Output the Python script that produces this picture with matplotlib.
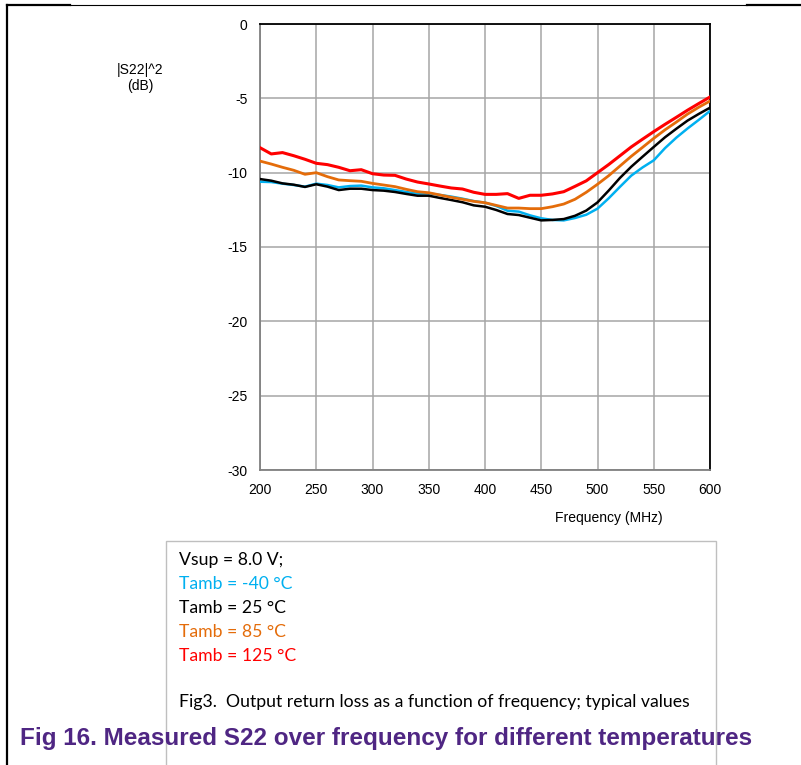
import matplotlib.pyplot as plt
from matplotlib.patches import Rectangle
from matplotlib.lines import Line2D

# Частоти (МГц) та |S22|^2 (дБ) для кожної температури
freq = [200, 210, 220, 230, 240, 250, 260, 270, 280, 290, 300, 310, 320, 330,
        340, 350, 360, 370, 380, 390, 400, 410, 420, 430, 440, 450, 460, 470,
        480, 490, 500, 510, 520, 530, 540, 550, 560, 570, 580, 590, 600]

s22_m40 = [-10.61, -10.63, -10.74, -10.83, -10.94, -10.74, -10.83, -10.99, -10.90, -10.87,
           -10.99, -11.05, -11.17, -11.30, -11.41, -11.39, -11.50, -11.61, -11.75, -11.91,
           -12.02, -12.24, -12.56, -12.62, -12.87, -13.07, -13.18, -13.21, -13.05, -12.83,
           -12.42, -11.72, -10.95, -10.20, -9.65, -9.17, -8.35, -7.65, -7.03, -6.45, -5.85]

s22_25 = [-10.43, -10.54, -10.72, -10.81, -10.96, -10.78, -10.94, -11.17, -11.08, -11.08,
          -11.17, -11.21, -11.30, -11.43, -11.55, -11.55, -11.70, -11.84, -11.99, -12.20,
          -12.29, -12.51, -12.78, -12.85, -13.03, -13.21, -13.18, -13.12, -12.90, -12.55,
          -12.00, -11.20, -10.35, -9.60, -8.93, -8.27, -7.62, -7.05, -6.50, -6.05, -5.63]

s22_85 = [-9.22, -9.42, -9.64, -9.84, -10.11, -10.00, -10.27, -10.49, -10.54, -10.58,
          -10.72, -10.83, -10.94, -11.12, -11.28, -11.35, -11.50, -11.66, -11.79, -11.93,
          -12.02, -12.20, -12.38, -12.38, -12.42, -12.42, -12.29, -12.11, -11.79, -11.32,
          -10.78, -10.20, -9.55, -8.90, -8.30, -7.69, -7.12, -6.60, -6.06, -5.60, -5.18]

s22_125 = [-8.32, -8.74, -8.65, -8.86, -9.10, -9.37, -9.46, -9.64, -9.87, -9.80,
           -10.07, -10.16, -10.18, -10.43, -10.63, -10.76, -10.90, -11.03, -11.10, -11.32,
           -11.46, -11.46, -11.41, -11.73, -11.52, -11.52, -11.43, -11.28, -10.92, -10.55,
           -10.00, -9.45, -8.86, -8.27, -7.75, -7.24, -6.75, -6.28, -5.80, -5.35, -4.91]

x_ticks = [200, 250, 300, 350, 400, 450, 500, 550, 600]
y_ticks = [0, -5, -10, -15, -20, -25, -30]

legend_lines = [
    ("Vsup = 8.0 V;", "black"),
    ("Tamb = -40 °C", "#00B0F0"),
    ("Tamb = 25 °C", "black"),
    ("Tamb = 85 °C", "#E46C0A"),
    ("Tamb = 125 °C", "#FF0000"),
]

W, H = 801, 765
PURPLE = "#4F2683"
fig = plt.figure(figsize=(W / 100, H / 100), dpi=100)

# Область графіка
ax = fig.add_axes([260 / W, 1 - 470 / H, 450 / W, 446 / H])
ax.plot(freq, s22_m40, color="#00B0F0", lw=1.8, zorder=3)
ax.plot(freq, s22_25, color="black", lw=1.8, zorder=4)
ax.plot(freq, s22_85, color="#E46C0A", lw=2.0, zorder=5)
ax.plot(freq, s22_125, color="#FF0000", lw=2.2, zorder=6)

ax.set_xlim(200, 600)
ax.set_ylim(-30, 0)
ax.set_xticks(x_ticks)
ax.set_yticks(y_ticks)
ax.set_xticklabels([str(v) for v in x_ticks], fontsize=10, family="Liberation Sans")
ax.set_yticklabels([str(v) for v in y_ticks], fontsize=10, family="Liberation Sans")
ax.tick_params(length=0, pad=9)
ax.grid(True, color="#A6A6A6", lw=1.1)
ax.set_axisbelow(True)
for side in ("left", "bottom"):
    ax.spines[side].set_color("#808080")
    ax.spines[side].set_linewidth(1.3)
for side in ("top", "right"):
    ax.spines[side].set_color("black")
    ax.spines[side].set_linewidth(1.3)

# Підписи осей
fig.text(140 / W, 1 - 70 / H, "|S22|^2", ha="center", va="center",
         fontsize=10, family="Liberation Sans")
fig.text(140 / W, 1 - 86 / H, "(dB)", ha="center", va="center",
         fontsize=10, family="Liberation Sans")
fig.text(609 / W, 1 - 518 / H, "Frequency (MHz)", ha="center", va="center",
         fontsize=10, family="Liberation Sans")

# Рамка сторінки
fig.add_artist(Line2D([7 / W, 7 / W], [1 - 5 / H, 0], color="black", lw=1.6))
fig.add_artist(Line2D([7 / W, 70 / W], [1 - 5 / H, 1 - 5 / H], color="black", lw=1.6))
fig.add_artist(Line2D([70 / W, 747 / W], [1 - 5 / H, 1 - 5 / H], color="black", lw=0.8))
fig.add_artist(Line2D([747 / W, 1], [1 - 5 / H, 1 - 5 / H], color="black", lw=1.6))

# Обрізаний заголовок зверху (видно лише низ дужок)
for x0, txt in [(140, "(dBm)"), (271, "(MHz)")]:
    fig.text(x0 / W, 1 + 5 / H, txt, ha="left", va="baseline",
             fontsize=17.5, fontweight="bold", color=PURPLE, family="Liberation Sans")

# Блок легенди
fig.add_artist(Rectangle((166 / W, -0.01), 550 / W, (H - 541) / H + 0.01,
                         transform=fig.transFigure, fill=False,
                         edgecolor="#BFBFBF", lw=1.0))
for i, (txt, col) in enumerate(legend_lines):
    fig.text(179 / W, 1 - (560 + i * 24) / H, txt, ha="left", va="center",
             fontsize=12.7, color=col, family="Lato")
fig.text(179 / W, 1 - 702 / H,
         "Fig3.  Output return loss as a function of frequency; typical values",
         ha="left", va="center", fontsize=12.7, color="black", family="Lato")

fig.text(20 / W, 1 - 738 / H,
         "Fig 16. Measured S22 over frequency for different temperatures",
         ha="left", va="center", fontsize=17.5, fontweight="bold",
         color=PURPLE, family="Liberation Sans")

fig.savefig("out.png", dpi=100)
